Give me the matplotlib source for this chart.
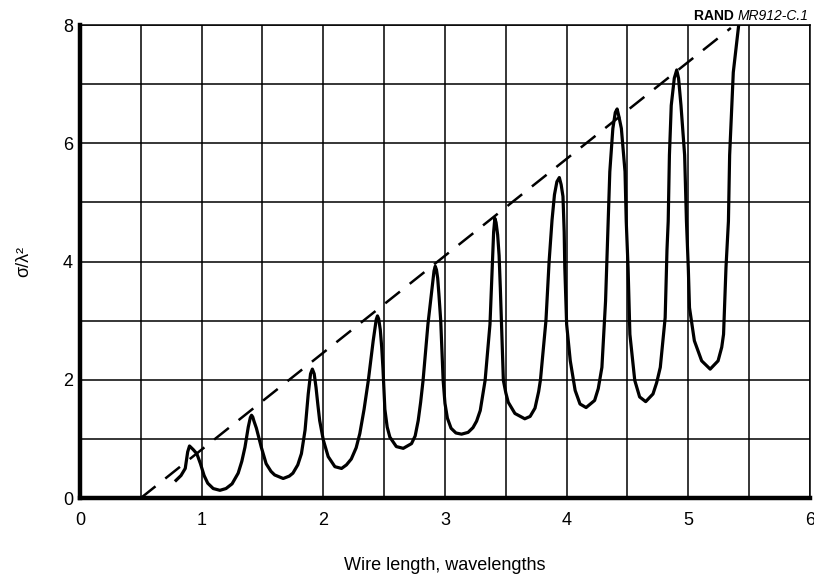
import matplotlib
matplotlib.use("Agg")
import matplotlib.pyplot as plt
from matplotlib.ticker import MultipleLocator

plt.rcParams['font.family'] = ['Liberation Sans', 'DejaVu Sans']

# scattering curve (wire length in wavelengths, sigma/lambda^2)
wire_len = [0.78, 0.83, 0.865, 0.885, 0.90, 0.93, 0.96, 0.99, 1.02, 1.05, 1.095, 1.15,
            1.20, 1.25, 1.30, 1.33, 1.356, 1.383, 1.40, 1.41, 1.42, 1.43, 1.45, 1.47,
            1.49, 1.53, 1.57, 1.60, 1.67, 1.72, 1.75, 1.79, 1.82, 1.85, 1.876, 1.895,
            1.91, 1.925, 1.94, 1.955, 1.97, 2.00, 2.04, 2.095, 2.15, 2.19, 2.23, 2.27,
            2.30, 2.335, 2.37, 2.41, 2.435, 2.445, 2.455, 2.468, 2.48, 2.49, 2.495, 2.506,
            2.525, 2.547, 2.60, 2.657, 2.725, 2.755, 2.78, 2.80, 2.82, 2.86, 2.90, 2.91,
            2.92, 2.93, 2.94, 2.95, 2.965, 2.975, 2.985, 3.00, 3.02, 3.05, 3.09, 3.136,
            3.19, 3.23, 3.26, 3.29, 3.33, 3.37, 3.39, 3.40, 3.41, 3.42, 3.433, 3.445,
            3.455, 3.465, 3.48, 3.50, 3.52, 3.575, 3.656, 3.70, 3.74, 3.77, 3.785, 3.83,
            3.856, 3.88, 3.90, 3.92, 3.94, 3.955, 3.97, 3.98, 3.985, 4.00, 4.03, 4.07,
            4.11, 4.16, 4.23, 4.26, 4.29, 4.32, 4.34, 4.355, 4.38, 4.40, 4.415, 4.43,
            4.45, 4.48, 4.49, 4.505, 4.52, 4.56, 4.60, 4.65, 4.71, 4.74, 4.77, 4.81,
            4.825, 4.835, 4.845, 4.86, 4.885, 4.905, 4.92, 4.94, 4.97, 4.985, 5.00, 5.01,
            5.05, 5.11, 5.18, 5.245, 5.275, 5.29, 5.31, 5.33, 5.34, 5.37, 5.41, 5.42]
sigma = [0.28, 0.38, 0.50, 0.78, 0.88, 0.82, 0.75, 0.58, 0.38, 0.25, 0.16, 0.13,
         0.16, 0.24, 0.42, 0.62, 0.86, 1.20, 1.36, 1.40, 1.37, 1.30, 1.18, 1.02,
         0.86, 0.58, 0.45, 0.39, 0.33, 0.37, 0.42, 0.56, 0.75, 1.15, 1.76, 2.10,
         2.18, 2.10, 1.87, 1.58, 1.31, 0.98, 0.70, 0.53, 0.50, 0.56, 0.66, 0.85,
         1.09, 1.50, 1.99, 2.66, 3.02, 3.08, 3.03, 2.85, 2.55, 2.20, 1.99, 1.50,
         1.20, 1.03, 0.87, 0.84, 0.92, 1.05, 1.31, 1.62, 1.99, 2.94, 3.67, 3.84,
         3.92, 3.86, 3.72, 3.45, 3.00, 2.50, 1.99, 1.60, 1.35, 1.18, 1.10, 1.08,
         1.11, 1.19, 1.30, 1.48, 1.99, 2.94, 3.95, 4.50, 4.73, 4.66, 4.45, 4.10,
         3.55, 2.94, 1.99, 1.78, 1.62, 1.43, 1.34, 1.38, 1.52, 1.80, 2.00, 3.00,
         4.00, 4.70, 5.13, 5.35, 5.42, 5.30, 5.10, 4.50, 3.90, 2.94, 2.32, 1.82,
         1.59, 1.53, 1.65, 1.85, 2.21, 3.33, 4.60, 5.52, 6.25, 6.52, 6.58, 6.45,
         6.25, 5.52, 4.68, 3.90, 2.77, 1.99, 1.71, 1.63, 1.76, 1.95, 2.21, 3.05,
         4.20, 4.68, 5.80, 6.64, 7.10, 7.24, 7.10, 6.64, 5.80, 4.68, 3.90, 3.22,
         2.66, 2.32, 2.18, 2.32, 2.55, 2.77, 3.90, 4.68, 5.80, 7.20, 7.93, 8.10]

# dashed envelope line
env_x = [0.5, 5.35]
env_y = [0.0, 7.95]

x_ticks = [0, 1, 2, 3, 4, 5, 6]
y_ticks = [0, 2, 4, 6, 8]

fig = plt.figure(figsize=(8.14, 5.78), dpi=100)
ax = fig.add_axes([0.0983, 0.1384, 0.8967, 0.8183])

ax.set_xlim(0, 6)
ax.set_ylim(0, 8)

ax.xaxis.set_minor_locator(MultipleLocator(0.5))
ax.yaxis.set_minor_locator(MultipleLocator(1))
ax.set_xticks(x_ticks)
ax.set_yticks(y_ticks)
ax.grid(True, which='both', color='black', linewidth=1.1)
ax.set_axisbelow(True)

ax.plot(env_x, env_y, color='black', linewidth=1.8, dashes=(7.5, 5))
ax.plot(wire_len, sigma, color='black', linewidth=2.3, solid_joinstyle='round',
        solid_capstyle='butt')

ax.tick_params(which='both', length=0, labelsize=13)
ax.tick_params(axis='x', pad=10)
ax.tick_params(axis='y', pad=5)

ax.spines['left'].set_linewidth(3.2)
ax.spines['bottom'].set_linewidth(3.2)
ax.spines['top'].set_linewidth(1.1)
ax.spines['right'].set_linewidth(1.1)

ax.set_xlabel('Wire length, wavelengths', fontsize=13, labelpad=20)
ax.set_ylabel('σ/λ²', fontsize=13, labelpad=22)

t_id = fig.text(0.993, 0.972, 'MR912-C.1', fontsize=10, style='italic',
                ha='right', va='center')
ax.annotate('RAND ', xy=(0, 0.5), xycoords=t_id, ha='right', va='center',
            fontsize=10, fontweight='bold')

fig.savefig('out.png', dpi=100)
